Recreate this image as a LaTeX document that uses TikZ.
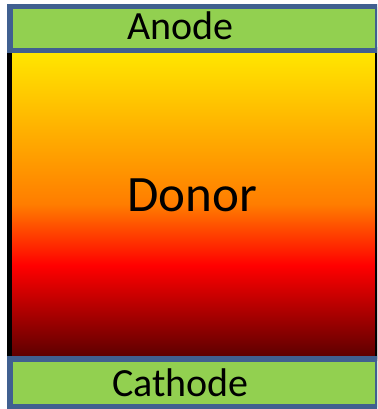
\documentclass[tikz,border=0pt]{standalone}
\usepackage{fontspec}
\setmainfont{Carlito}
\definecolor{eblue}{RGB}{64,96,144}
\definecolor{egreen}{RGB}{146,208,80}
\definecolor{dye}{RGB}{255,232,0}
\definecolor{dor}{RGB}{255,125,0}
\definecolor{drd}{RGB}{255,0,0}
\definecolor{ddk}{RGB}{90,0,0}
\pgfdeclareverticalshading{donorshade}{100bp}{color(0bp)=(ddk); color(25bp)=(ddk); color(40bp)=(drd); color(50bp)=(dor); color(75bp)=(dye); color(100bp)=(dye)}
\tikzset{
  electrode/.style={line width=5.5pt, draw=eblue, fill=egreen},
  lbl/.style={anchor=base, inner sep=0pt, font=\fontsize{40}{40}\selectfont},
  biglbl/.style={anchor=base, inner sep=0pt, font=\fontsize{51}{51}\selectfont}
}
\begin{document}
\begin{tikzpicture}[x=1pt,y=1pt]
\useasboundingbox (0,0) rectangle (377,-409);
\clip (0,0) rectangle (377,-409);
\shade[shading=donorshade] (9.5,-50) rectangle (377.2,-358);
\draw[line width=5pt, black] (9.5,-50) rectangle (377.2,-358);
\draw[electrode] (9.85,-6.7) rectangle (377.75,-50.5);
\draw[electrode] (9.85,-358.8) rectangle (377.75,-406.5);
\node[lbl] (anode) at (180.5,-40) {Anode};
\node[biglbl] (donor) at (192,-211) {Donor};
\node[lbl] (cathode) at (180.5,-396) {Cathode};
\end{tikzpicture}
\end{document}
